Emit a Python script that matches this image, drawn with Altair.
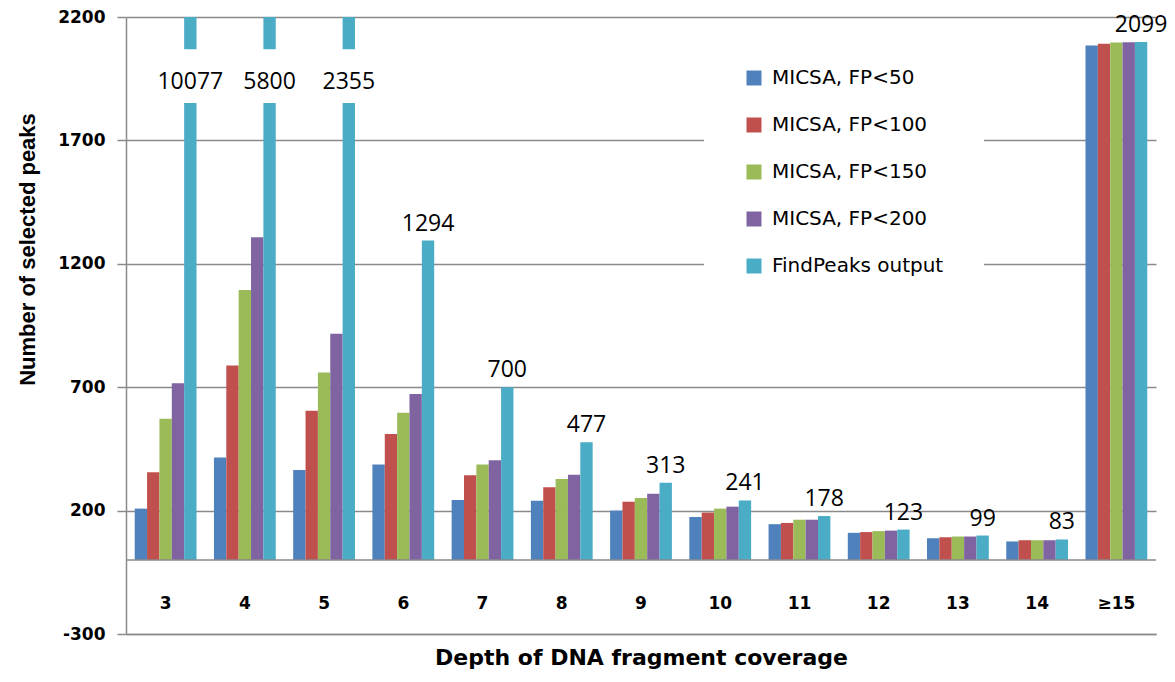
import altair as alt
import pandas as pd

categories = ["3", "4", "5", "6", "7", "8", "9", "10", "11", "12", "13", "14", "≥15"]
series = ["MICSA, FP<50", "MICSA, FP<100", "MICSA, FP<150", "MICSA, FP<200", "FindPeaks output"]
fp50 = [208, 415, 365, 387, 243, 240, 200, 174, 145, 110, 88, 75, 2085]
fp100 = [355, 788, 605, 510, 343, 295, 236, 192, 150, 113, 92, 80, 2092]
fp150 = [572, 1094, 760, 596, 387, 328, 251, 208, 163, 117, 95, 80, 2097]
fp200 = [716, 1308, 917, 672, 404, 345, 268, 216, 163, 119, 95, 80, 2098]
findpeaks = [10077, 5800, 2355, 1294, 700, 477, 313, 241, 178, 123, 99, 83, 2099]
colors = ["#4F81BD", "#C0504D", "#9BBB59", "#8064A2", "#4BACC6"]
y_ticks = [-300, 200, 700, 1200, 1700, 2200]
y_min, y_max = -300, 2200
# axis break drawn on the bars that exceed the axis maximum
break_low, break_high, break_label = 1856, 2065, 1948

rows = []
for i, c in enumerate(categories):
    for s, vals in zip(series, [fp50, fp100, fp150, fp200, findpeaks]):
        rows.append({"cat": c, "series": s, "value": vals[i]})
df = pd.DataFrame(rows)

grid_col = "#8a8a8a"

x_enc = alt.X(
    "cat:N",
    sort=categories,
    scale=alt.Scale(domain=categories, paddingInner=0.22, paddingOuter=0.11),
    axis=alt.Axis(
        title="Depth of DNA fragment coverage",
        labelAngle=0,
        ticks=False,
        domain=True,
        domainColor=grid_col,
        domainWidth=1.5,
        labelPadding=-39,
        labelFont="DejaVu Sans",
        labelFontWeight="bold",
        labelFontSize=17,
        labelColor="black",
        titleFont="DejaVu Sans",
        titleFontWeight="bold",
        titleFontSize=22,
        titleColor="black",
        titleY=23,
        titleBaseline="middle",
    ),
)
xo_enc = alt.XOffset("series:N", sort=series,
                     scale=alt.Scale(domain=series, paddingInner=0, paddingOuter=0))
y_scale = alt.Scale(domain=[y_min, y_max], nice=False)

base = alt.Chart(df).encode(x=x_enc, xOffset=xo_enc)

bars = base.mark_bar(clip=True).encode(
    y=alt.Y(
        "value:Q",
        scale=y_scale,
        axis=alt.Axis(
            values=y_ticks,
            labelExpr="'' + datum.value",
            grid=True,
            gridColor=grid_col,
            gridWidth=1.5,
            domainColor=grid_col,
            domainWidth=1.5,
            tickColor=grid_col,
            tickWidth=1.5,
            tickSize=9,
            labelPadding=12,
            labelFont="DejaVu Sans",
            labelFontWeight="bold",
            labelFontSize=17,
            labelColor="black",
            title="Number of selected peaks",
            titleFont="Liberation Sans",
            titleFontWeight="bold",
            titleFontSize=22,
            titleColor="black",
            titleX=-99,
            titleY=232,
            titleBaseline="middle",
        ),
    ),
    color=alt.Color(
        "series:N",
        sort=series,
        scale=alt.Scale(domain=series, range=colors),
        title=None,
        legend=alt.Legend(
            orient="none",
            legendX=578,
            legendY=11,
            fillColor="white",
            padding=40,
            symbolType="square",
            symbolSize=225,
            symbolStrokeWidth=0,
            labelFont="DejaVu Sans",
            labelFontSize=20,
            labelColor="black",
            labelLimit=300,
            labelOffset=8,
            rowPadding=27,
        ),
    ),
)

gap = (
    base.transform_filter(alt.datum.value > y_max)
    .transform_calculate(lo=str(break_low), hi=str(break_high))
    .mark_bar(color="white", stroke="white", strokeWidth=2)
    .encode(y=alt.Y("lo:Q", scale=y_scale), y2="hi:Q")
)

zero_line = alt.Chart(pd.DataFrame({"z": [0]})).mark_rule(
    color=grid_col, strokeWidth=1.5
).encode(y=alt.Y("z:Q", scale=y_scale))

labels_normal = (
    base.transform_filter(
        (alt.datum.series == "FindPeaks output") & (alt.datum.value <= y_max)
    )
    .mark_text(baseline="bottom", dy=-5, font="Open Sans", fontSize=23, color="black")
    .encode(y=alt.Y("value:Q", scale=y_scale), text="value:Q")
)

labels_break = (
    base.transform_filter(alt.datum.value > y_max)
    .transform_calculate(ly=str(break_label))
    .mark_text(baseline="middle", dy=3, font="Open Sans", fontSize=23, color="black")
    .encode(y=alt.Y("ly:Q", scale=y_scale), text="value:Q")
)

chart = (
    alt.layer(bars, zero_line, gap, labels_normal, labels_break)
    .properties(
        width=1030,
        height=617,
        autosize=alt.AutoSizeParams(type="none"),
        padding={"left": 118, "top": 9, "right": 11, "bottom": 36},
    )
    .configure_view(strokeWidth=0)
)

chart.save("out.html", embed_options={"renderer": "svg", "actions": False})
